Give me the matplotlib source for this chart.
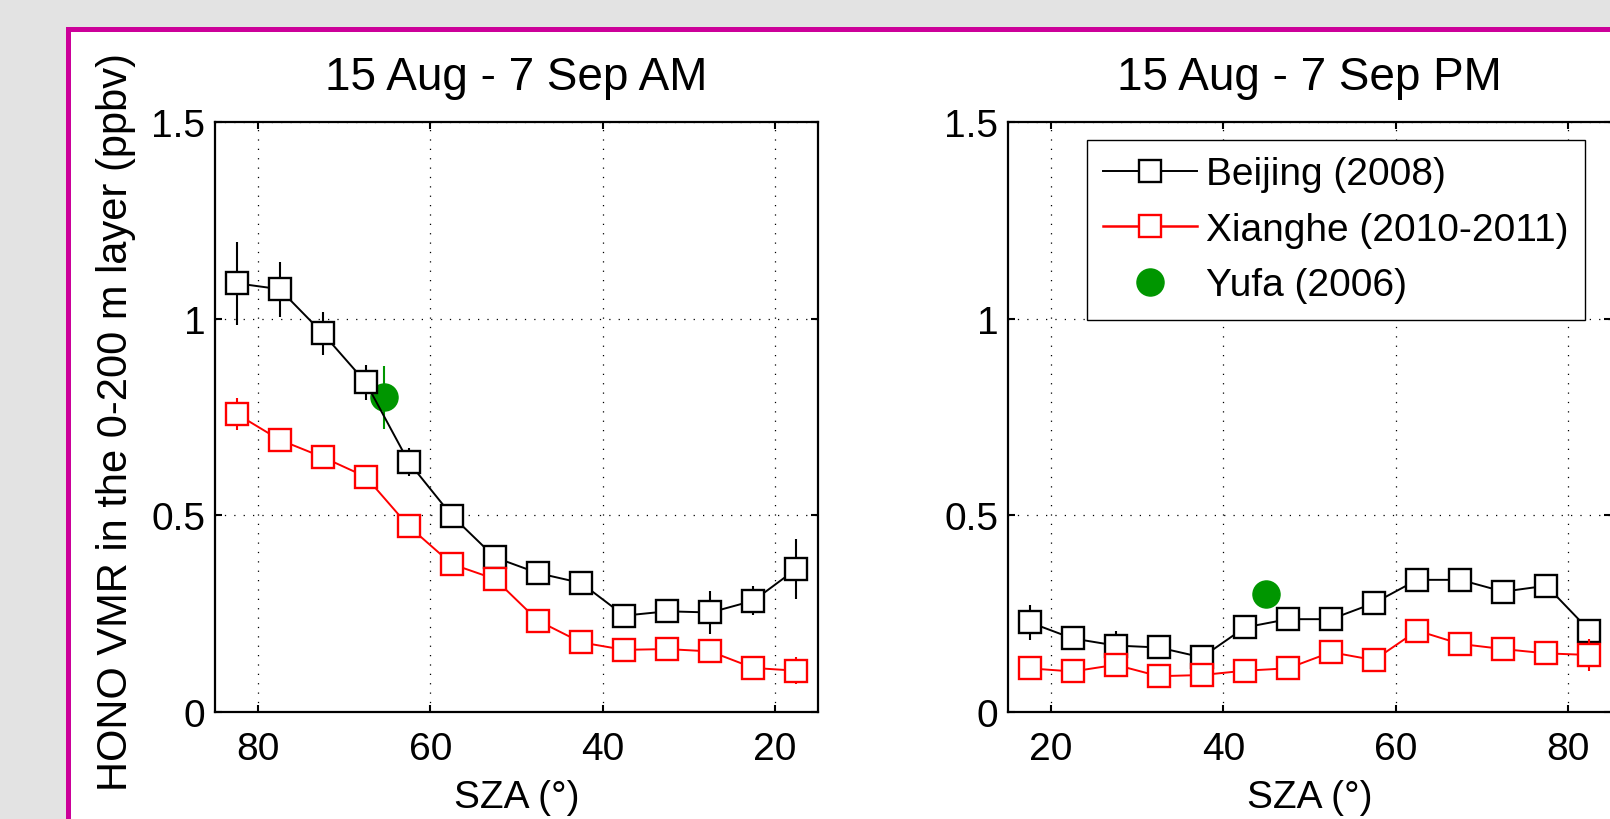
import matplotlib
matplotlib.use("Agg")
import matplotlib.pyplot as plt
from matplotlib.patches import Rectangle
from matplotlib.lines import Line2D
from matplotlib.ticker import FixedLocator, FixedFormatter

plt.rcParams['font.family'] = ['Liberation Sans', 'DejaVu Sans']

# ---------------- data ----------------
titles = ["15 Aug - 7 Sep AM", "15 Aug - 7 Sep PM"]
legend_labels = ["Beijing (2008)", "Xianghe (2010-2011)", "Yufa (2006)"]

sza_am = [82.5, 77.5, 72.5, 67.5, 62.5, 57.5, 52.5, 47.5, 42.5, 37.5, 32.5, 27.5, 22.5, 17.5]
beijing_am = [1.09, 1.075, 0.963, 0.838, 0.635, 0.499, 0.393, 0.353, 0.328, 0.245, 0.256, 0.253, 0.283, 0.364]
beijing_am_err = [0.105, 0.07, 0.055, 0.045, 0.035, 0.02, 0.02, 0.015, 0.015, 0.02, 0.015, 0.055, 0.037, 0.077]
xianghe_am = [0.758, 0.692, 0.648, 0.598, 0.472, 0.376, 0.338, 0.232, 0.177, 0.158, 0.160, 0.154, 0.112, 0.105]
xianghe_am_err = [0.04, 0.02, 0.02, 0.02, 0.02, 0.02, 0.02, 0.02, 0.02, 0.02, 0.02, 0.02, 0.02, 0.034]

sza_pm = [17.5, 22.5, 27.5, 32.5, 37.5, 42.5, 47.5, 52.5, 57.5, 62.5, 67.5, 72.5, 77.5, 82.5]
beijing_pm = [0.228, 0.187, 0.169, 0.164, 0.139, 0.215, 0.236, 0.236, 0.277, 0.336, 0.336, 0.306, 0.321, 0.207]
beijing_pm_err = [0.045, 0.02, 0.038, 0.02, 0.02, 0.02, 0.02, 0.02, 0.02, 0.02, 0.02, 0.02, 0.02, 0.02]
xianghe_pm = [0.111, 0.103, 0.120, 0.091, 0.094, 0.105, 0.111, 0.152, 0.132, 0.207, 0.173, 0.160, 0.149, 0.145]
xianghe_pm_err = [0.02, 0.02, 0.02, 0.02, 0.02, 0.02, 0.02, 0.02, 0.02, 0.02, 0.02, 0.02, 0.02, 0.04]

yufa_am_sza = [65.4]
yufa_am = [0.80]
yufa_am_err = [0.08]
yufa_pm_sza = [45.0]
yufa_pm = [0.30]

y_ticks = [0, 0.5, 1, 1.5]
y_ticklabels = ["0", "0.5", "1", "1.5"]
x_ticks = [20, 40, 60, 80]
x_ticklabels = ["20", "40", "60", "80"]

ylabel = "HONO VMR in the 0-200 m layer (ppbv)"
xlabel = "SZA (\u00b0)"

# ---------------- styles ----------------
W, H = 1610, 820
fig = plt.figure(figsize=(W / 100, H / 100), dpi=100)
fig.patch.set_facecolor('#e3e3e3')

# magenta frame (image border)
frame = Rectangle((67.5 / W, -0.2), 1.5, (H - 29.5) / H + 0.2,
                  transform=fig.transFigure, facecolor='white',
                  edgecolor='#cc0099', linewidth=3.6, zorder=-10)
fig.add_artist(frame)

GREEN = '#009600'
TICK_FS = 28
LABEL_FS = 28
TITLE_FS = 33

def px_axes(x0, x1, ytop, ybot):
    return [x0 / W, (H - ybot) / H, (x1 - x0) / W, (ybot - ytop) / H]

ax1 = fig.add_axes(px_axes(215, 818, 123, 713))
ax2 = fig.add_axes(px_axes(1008, 1611, 123, 713))

def style(ax, xlim):
    ax.set_xlim(*xlim)
    ax.set_ylim(0, 1.5)
    ax.xaxis.set_major_locator(FixedLocator(x_ticks))
    ax.xaxis.set_major_formatter(FixedFormatter(x_ticklabels))
    ax.yaxis.set_major_locator(FixedLocator(y_ticks))
    ax.yaxis.set_major_formatter(FixedFormatter(y_ticklabels))
    ax.tick_params(axis='both', direction='in', length=5, width=1.5,
                   top=True, right=True, labelsize=TICK_FS, colors='k')
    ax.tick_params(axis='x', pad=14)
    ax.tick_params(axis='y', pad=7)
    for s in ax.spines.values():
        s.set_linewidth(1.6)
        s.set_color('k')
    ax.grid(True, linestyle=(0, (1, 6.5)), linewidth=0.9, color='k')
    ax.set_axisbelow(True)
    ax.set_xlabel(xlabel, fontsize=LABEL_FS)
    ax.xaxis.set_label_coords(0.5, -0.113)

MS = 16
MEW = 1.7

def draw(ax, sza, bj, bj_err, xh, xh_err, ysza, yv, yerr):
    ax.errorbar(ysza, yv, yerr=yerr, fmt='o', color=GREEN, ms=19.5,
                mec=GREEN, mfc=GREEN, elinewidth=1.5, capsize=0, zorder=2)
    ax.errorbar(sza, bj, yerr=bj_err, fmt='-s', color='k', lw=1.4, ms=MS,
                mfc='white', mec='k', mew=MEW, elinewidth=1.5, capsize=0, zorder=3)
    ax.errorbar(sza, xh, yerr=xh_err, fmt='-s', color='#ff0000', lw=1.4, ms=MS,
                mfc='white', mec='#ff0000', mew=MEW, elinewidth=1.5, capsize=0, zorder=4)

style(ax1, (85, 15))
style(ax2, (15, 85))

draw(ax1, sza_am, beijing_am, beijing_am_err, xianghe_am, xianghe_am_err,
     yufa_am_sza, yufa_am, yufa_am_err)
draw(ax2, sza_pm, beijing_pm, beijing_pm_err, xianghe_pm, xianghe_pm_err,
     yufa_pm_sza, yufa_pm, None)

ax1.set_title(titles[0], fontsize=TITLE_FS, pad=24)
ax2.set_title(titles[1], fontsize=TITLE_FS, pad=24)

ax1.set_ylabel(ylabel, fontsize=30)
ax1.yaxis.set_label_coords(-0.131, 0.494)

handles = [
    Line2D([], [], color='k', lw=1.4, marker='s', ms=MS, mfc='white', mec='k', mew=MEW),
    Line2D([], [], color='#ff0000', lw=1.8, marker='s', ms=MS, mfc='white', mec='#ff0000', mew=MEW),
    Line2D([], [], color=GREEN, lw=0, marker='o', ms=19.5, mfc=GREEN, mec=GREEN),
]
leg = ax2.legend(handles, legend_labels, loc='upper left',
                 bbox_to_anchor=(1087 / W, 1 - 141 / H), bbox_transform=fig.transFigure,
                 fontsize=28, frameon=True, fancybox=False, framealpha=1,
                 edgecolor='k', borderpad=0.42, labelspacing=0.5,
                 handlelength=2.4, handletextpad=0.25, borderaxespad=0)
leg.get_frame().set_linewidth(1.0)

fig.savefig('out.png', dpi=100, facecolor=fig.get_facecolor())
